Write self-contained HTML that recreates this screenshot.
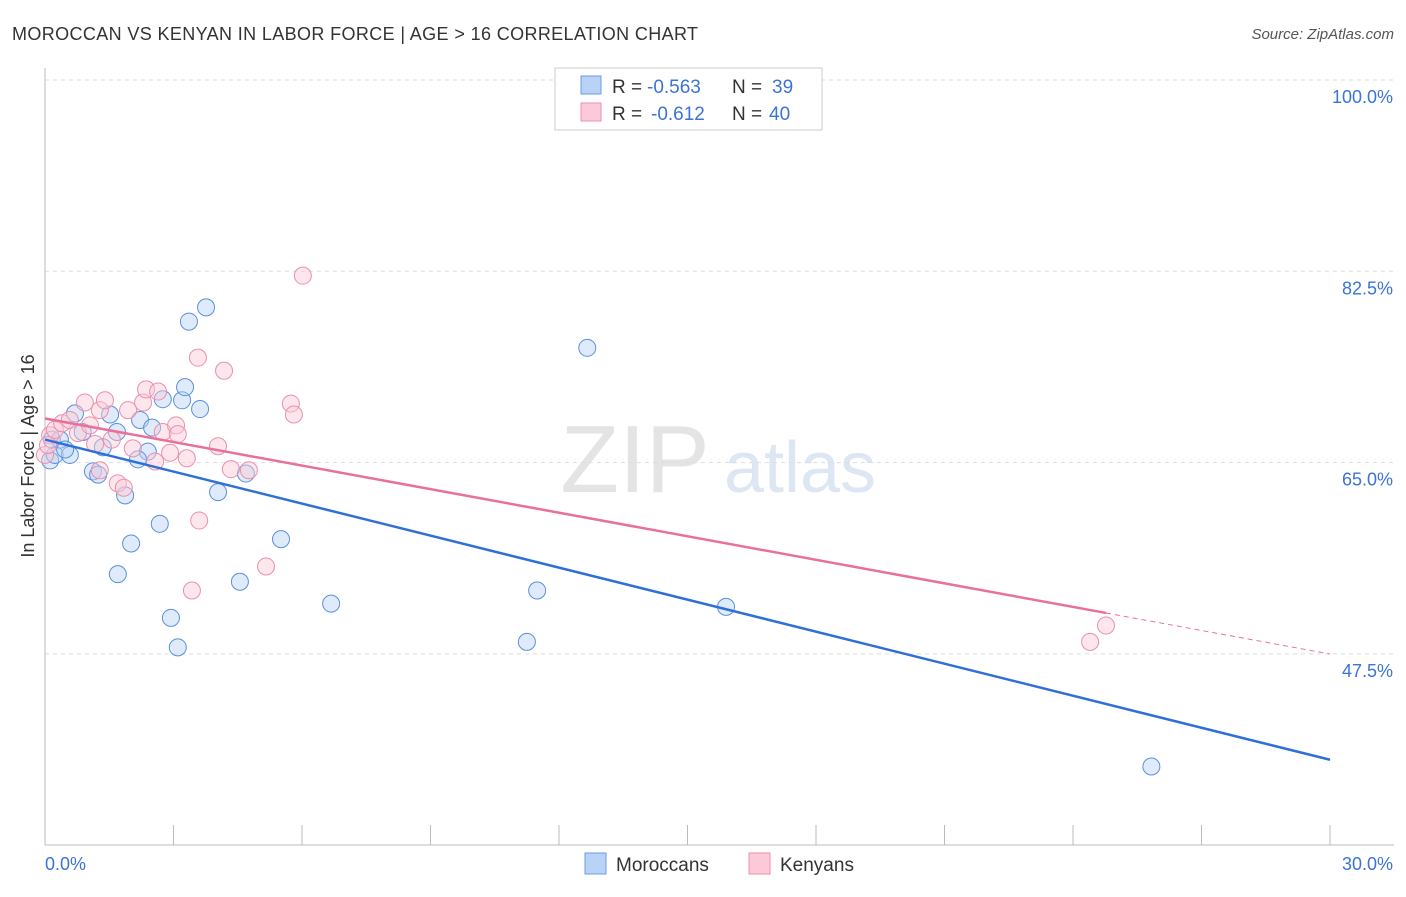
<!DOCTYPE html>
<html><head><meta charset="utf-8"><style>
body{margin:0;background:#fff;font-family:"Liberation Sans",sans-serif}
svg text{font-family:"Liberation Sans",sans-serif}
</style></head><body>
<svg id="c" width="1406" height="892">
<text x="12" y="40" font-size="18" fill="#333" textLength="686">MOROCCAN VS KENYAN IN LABOR FORCE | AGE &gt; 16 CORRELATION CHART</text>
<text x="1394" y="39" font-size="15" fill="#555" text-anchor="end" font-style="italic">Source: ZipAtlas.com</text>
<text x="635" y="492" font-size="96" fill="#e4e4e4" font-family="Liberation Serif" text-anchor="middle">ZIP</text>
<text x="800" y="492" font-size="72" fill="#dde6f3" text-anchor="middle">atlas</text>
<g id="grid"></g><g id="axes"></g><g id="pts"></g><g id="lines"></g>
<text transform="translate(34,456) rotate(-90)" font-size="18" fill="#333" text-anchor="middle">In Labor Force | Age &gt; 16</text>
<g>
<rect x="555" y="68" width="267" height="62" fill="#fff" stroke="#ccc"/>
<rect x="581" y="76" width="20" height="18" fill="#b8d3f5" stroke="#6a9ee0"/>
<rect x="581" y="103" width="20" height="18" fill="#fbc9d8" stroke="#ec8fac"/>
<text x="612" y="93" font-size="19" fill="#333">R =</text>
<text x="647" y="93" font-size="19" fill="#3b73d6">-0.563</text>
<text x="732" y="93" font-size="19" fill="#333">N =</text>
<text x="772" y="93" font-size="19" fill="#3b73d6">39</text>
<text x="612" y="120" font-size="19" fill="#333">R =</text>
<text x="651" y="120" font-size="19" fill="#3b73d6">-0.612</text>
<text x="732" y="120" font-size="19" fill="#333">N =</text>
<text x="769" y="120" font-size="19" fill="#3b73d6">40</text>
</g>
<g>
<rect x="585" y="853" width="21" height="21" fill="#b8d3f5" stroke="#6a9ee0"/>
<text x="616" y="871" font-size="19" fill="#333">Moroccans</text>
<rect x="749" y="853" width="21" height="21" fill="#fbc9d8" stroke="#ec8fac"/>
<text x="780" y="871" font-size="19" fill="#333">Kenyans</text>
</g>
</svg>
<script>
const yTicks=[100,82.5,65,47.5];
const xTickLabels=["0.0%","30.0%"];
const moroccanX=[0.12,0.23,0.16,0.35,0.58,0.47,0.70,0.88,1.35,1.52,1.68,1.12,1.24,1.87,2.22,2.40,2.50,2.17,2.75,3.20,3.27,3.62,3.36,3.76,4.04,4.69,2.68,2.01,1.70,2.94,3.10,4.55,5.51,6.68,11.49,11.25,15.90,12.66,25.83];
const moroccanY=[65.2,65.7,67.1,67.1,65.7,66.2,69.5,67.8,66.4,69.4,67.8,64.2,63.9,62.0,68.9,66.0,68.2,65.3,70.8,70.7,71.9,69.9,77.9,79.2,62.3,64.0,59.4,57.6,54.8,50.8,48.1,54.1,58.0,52.1,53.3,48.6,51.8,75.5,37.2];
const kenyanX=[0.12,0.23,0.40,0.58,0.77,0.93,1.05,1.28,1.40,1.56,1.70,1.84,1.94,2.05,2.29,2.36,2.57,2.64,2.75,2.92,3.06,3.10,3.31,3.43,3.60,3.57,4.04,4.18,4.34,4.76,5.16,5.74,5.81,6.02,24.40,24.77,0.0,0.07,1.17,1.28];
const kenyanY=[67.5,68.0,68.6,68.9,67.7,70.5,68.4,69.8,70.7,67.1,63.1,62.7,69.8,66.3,70.5,71.7,65.1,71.5,67.8,65.9,68.4,67.6,65.4,53.3,59.7,74.6,66.5,73.4,64.4,64.3,55.5,70.4,69.4,82.1,48.6,50.1,65.7,66.6,66.7,64.3];
const NS="http://www.w3.org/2000/svg";
const X=v=>45+v/30*1285, Y=v=>80+(100-v)/17.5*191.3;
function mk(tag,attrs,parent){const e=document.createElementNS(NS,tag);for(const k in attrs)e.setAttribute(k,attrs[k]);document.getElementById(parent).appendChild(e);return e;}
yTicks.forEach(t=>{
 const l=mk('line',{x1:45,x2:1394,y1:Y(t),y2:Y(t),stroke:'#ddd','stroke-dasharray':'4,4'},'grid');
 
 
 const tx=mk('text',{x:1393,y:Y(t)+23,'font-size':18,fill:'#3b73d6','text-anchor':'end'},'grid');
 tx.textContent=t.toFixed(1)+'%';
 
 
});
mk('line',{x1:45,x2:45,y1:68,y2:845,stroke:'#bbb'},'axes');
mk('line',{x1:45,x2:1394,y1:845,y2:845,stroke:'#bbb'},'axes');
for(let i=0;i<=10;i++){const x=45+i*128.5;const t=mk('line',{x1:x,x2:x,y1:825,y2:845,stroke:'#bbb'},'axes');}
[[0,'start'],[30,'end']].forEach((p,i)=>{const t=mk('text',{x:i?1393:45,y:870,'font-size':18,fill:'#3b73d6','text-anchor':p[1]},'axes');t.textContent=xTickLabels[i];});
function dots(xs,ys,fill,stroke,name){xs.forEach((x,i)=>{const c=mk('circle',{cx:X(x),cy:Y(ys[i]),r:8.5,fill:fill,'fill-opacity':0.45,stroke:stroke,'stroke-width':1},'pts');
 
 });}
dots(moroccanX,moroccanY,'#b8d3f5','#5a90dc','moroccan-point');
dots(kenyanX,kenyanY,'#fbc9d8','#ec8fac','kenyan-point');
function fit(xs,ys){const n=xs.length;let mx=0,my=0;xs.forEach((x,i)=>{mx+=x;my+=ys[i]});mx/=n;my/=n;let sxy=0,sxx=0;xs.forEach((x,i)=>{sxy+=(x-mx)*(ys[i]-my);sxx+=(x-mx)**2});const b=sxy/sxx;return [my-b*mx,b];}
const [ab,bb]=fit(moroccanX,moroccanY);
let l=mk('line',{x1:X(0),y1:Y(ab),x2:X(30),y2:Y(ab+bb*30),stroke:'#2f6fd8','stroke-width':2.5},'lines');


const [ak,bk]=fit(kenyanX,kenyanY);const mxk=Math.max(...kenyanX);
l=mk('line',{x1:X(0),y1:Y(ak),x2:X(mxk),y2:Y(ak+bk*mxk),stroke:'#e8709a','stroke-width':2.5},'lines');


l=mk('line',{x1:X(mxk),y1:Y(ak+bk*mxk),x2:X(30),y2:Y(ak+bk*30),stroke:'#e8709a','stroke-width':1,'stroke-dasharray':'5,4'},'lines');


</script>
</body></html>
